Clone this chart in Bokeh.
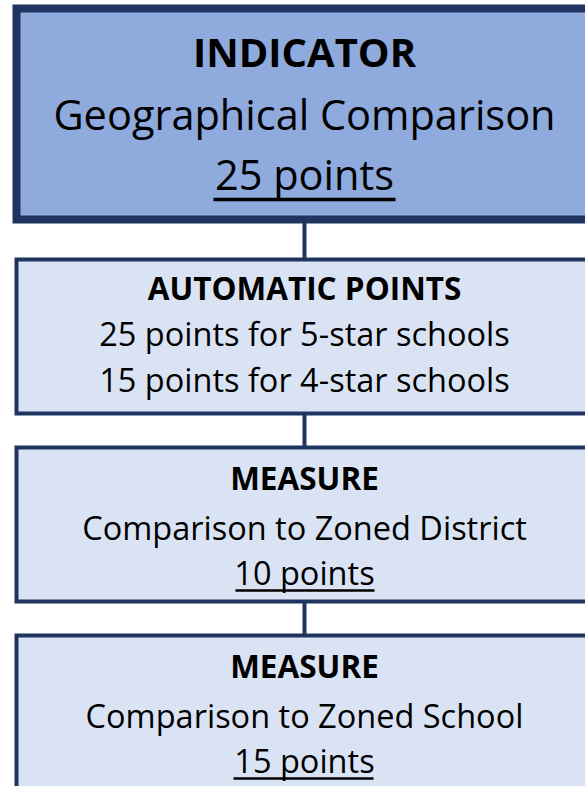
from bokeh.plotting import figure
from bokeh.models import Range1d
from bokeh.core.properties import value
from bokeh.embed import file_html
from bokeh.resources import INLINE

# ---- content ----
headers = ["INDICATOR", "AUTOMATIC POINTS", "MEASURE", "MEASURE"]
line2 = ["Geographical Comparison", "25 points for 5-star schools",
         "Comparison to Zoned District", "Comparison to Zoned School"]
line3 = ["25 points", "15 points for 4-star schools", "10 points", "15 points"]
underlined = [True, False, True, True]

# ---- layout (page pixel coordinates) ----
FONT = "Open Sans"
BORDER = "#1F3461"
FILL_TOP = "#8FAADC"
FILL = "#DAE3F3"
CX = 304

box_top = [8, 259, 447, 635]       # stroke path top
box_bot = [219, 413, 601, 820]     # stroke path bottom
box_lw = [8, 4, 4, 4]
box_fill = [FILL_TOP, FILL, FILL, FILL]
box_left = [16, 16, 16, 16]
box_right = [640, 640, 640, 640]

mid_y = [(51, 113, 173), (287, 333, 379), (477, 527, 572), (665, 715, 760)]
sizes = [(40, 41.5, 41.5), (31.5, 32.5, 32.5), (31.5, 32.5, 32.5), (31.5, 32.5, 32.5)]
ul_x = [(213, 395), None, (235, 374), (233, 373)]
ul_y = [199, None, 590, 778]
ul_lw = [3.5, 0, 2.5, 2.5]

p = figure(width=585, height=786, output_backend="svg", toolbar_location=None,
           x_range=Range1d(0, 585), y_range=Range1d(786, 0),
           min_border=0, outline_line_color=None)
p.axis.visible = False
p.grid.visible = False
p.background_fill_color = "white"

# connectors
for i in range(3):
    p.segment(x0=[CX], y0=[box_bot[i]], x1=[CX], y1=[box_top[i + 1]],
              line_color=BORDER, line_width=4)

# boxes
for i in range(4):
    p.quad(left=[box_left[i]], right=[box_right[i]], top=[box_top[i]], bottom=[box_bot[i]],
           fill_color=box_fill[i], line_color=BORDER, line_width=box_lw[i],
           line_join="miter")

# text
for i in range(4):
    y1, y2, y3 = mid_y[i]
    s1, s2, s3 = sizes[i]
    p.text(x=[CX], y=[y1], text=[headers[i]], text_font=value(FONT),
           text_font_style="bold", text_font_size=f"{s1}px", text_align="center",
           text_baseline="middle", text_color="black")
    p.text(x=[CX], y=[y2], text=[line2[i]], text_font=value(FONT),
           text_font_size=f"{s2}px", text_align="center",
           text_baseline="middle", text_color="black")
    p.text(x=[CX], y=[y3], text=[line3[i]], text_font=value(FONT),
           text_font_size=f"{s3}px", text_align="center",
           text_baseline="middle", text_color="black")
    if underlined[i]:
        x0, x1 = ul_x[i]
        p.segment(x0=[x0], y0=[ul_y[i]], x1=[x1], y1=[ul_y[i]],
                  line_color="black", line_width=ul_lw[i])

open("out.html", "w").write(file_html(p, INLINE))
